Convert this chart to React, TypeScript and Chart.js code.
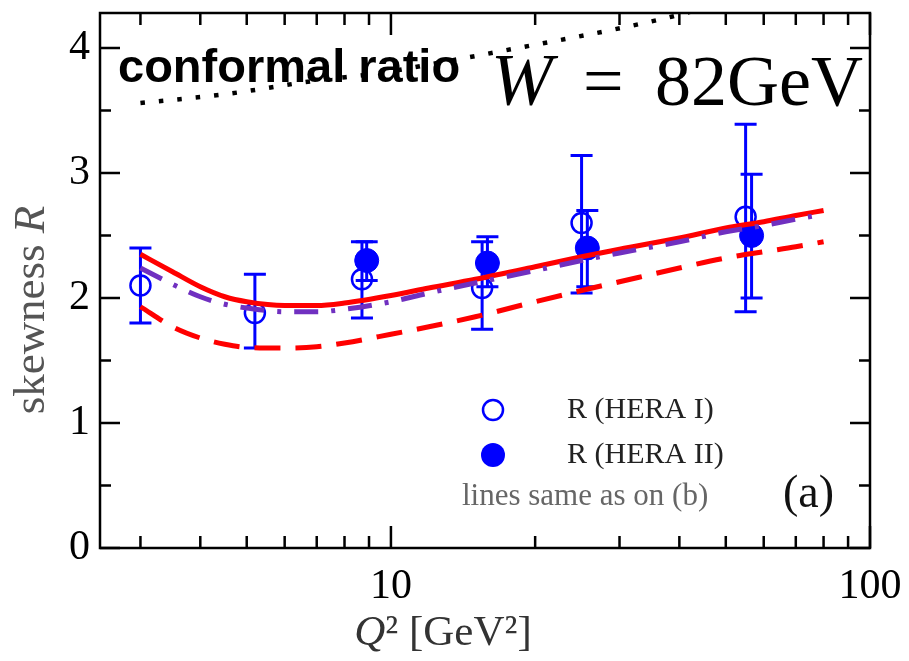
import React, { useEffect, useRef } from "react";
import { Chart, registerables } from "chart.js";

Chart.register(...registerables);

const WIDTH = 909;
const HEIGHT = 661;

// ---- data ----
const xTickValues = [10, 100];
const yTickValues = [0, 1, 2, 3, 4];

const hera1Q2 = [3.0, 5.2, 8.7, 15.5, 25.0, 55.0];
const hera1R = [2.1, 1.88, 2.15, 2.08, 2.6, 2.65];
const hera1Upper = [2.4, 2.19, 2.45, 2.45, 3.14, 3.39];
const hera1Lower = [1.8, 1.6, 1.84, 1.75, 2.04, 1.89];

const hera2Q2 = [8.9, 15.9, 25.7, 56.6];
const hera2R = [2.3, 2.28, 2.4, 2.5];
const hera2Upper = [2.45, 2.49, 2.7, 2.99];
const hera2Lower = [2.14, 2.09, 2.09, 2.0];

const curveQ2 = [3, 3.5, 4, 4.5, 5, 6, 7, 8, 10, 12, 15, 20, 25, 30, 40, 50, 60, 70, 80];
const solidRed = [2.35, 2.21, 2.09, 2.01, 1.97, 1.94, 1.94, 1.96, 2.02, 2.08, 2.15, 2.25, 2.33, 2.39, 2.48, 2.56, 2.61, 2.66, 2.7];
const dashDotPurple = [2.24, 2.11, 2.01, 1.95, 1.92, 1.89, 1.89, 1.91, 1.97, 2.04, 2.12, 2.22, 2.3, 2.36, 2.45, 2.53, 2.58, 2.63, 2.67];
const dashedRed = [1.93, 1.77, 1.68, 1.63, 1.605, 1.6, 1.61, 1.64, 1.71, 1.77, 1.85, 1.97, 2.06, 2.13, 2.24, 2.32, 2.37, 2.41, 2.45];

const conformalQ2 = [3, 4.5, 7, 9.5, 12.5, 19, 28.5, 38.5, 45];
const conformalR = [3.56, 3.63, 3.74, 3.8, 3.88, 4.01, 4.14, 4.25, 4.32];

const xMinorTicks = [3, 4, 5, 6, 7, 8, 9, 20, 30, 40, 50, 60, 70, 80, 90];
const yMinorTicks = [0.5, 1.5, 2.5, 3.5];

const zip = (xs: number[], ys: number[]) => xs.map((x, i) => ({ x, y: ys[i] }));

const BLUE = "#0000ff";
const RED = "#ff0000";
const PURPLE = "#7030c0";
const SERIF = "'Liberation Serif', 'DejaVu Serif', serif";
const SANS = "'Liberation Sans', Arial, sans-serif";

const decorPlugin = {
  id: "decor",
  beforeDatasetsDraw(chart: any) {
    const ctx = chart.ctx as CanvasRenderingContext2D;
    const xs = chart.scales.x;
    const ys = chart.scales.y;
    ctx.save();
    ctx.strokeStyle = BLUE;
    ctx.lineWidth = 3;
    const cap = 11;
    const drawBars = (q: number[], up: number[], lo: number[]) => {
      q.forEach((qv, i) => {
        const px = xs.getPixelForValue(qv);
        const pu = ys.getPixelForValue(up[i]);
        const pl = ys.getPixelForValue(lo[i]);
        ctx.beginPath();
        ctx.moveTo(px, pu);
        ctx.lineTo(px, pl);
        ctx.moveTo(px - cap, pu);
        ctx.lineTo(px + cap, pu);
        ctx.moveTo(px - cap, pl);
        ctx.lineTo(px + cap, pl);
        ctx.stroke();
      });
    };
    drawBars(hera1Q2, hera1Upper, hera1Lower);
    drawBars(hera2Q2, hera2Upper, hera2Lower);
    ctx.restore();
  },
  afterDraw(chart: any) {
    const ctx = chart.ctx as CanvasRenderingContext2D;
    const a = chart.chartArea;
    const xs = chart.scales.x;
    const ys = chart.scales.y;
    ctx.save();
    // frame
    ctx.strokeStyle = "#000";
    ctx.lineWidth = 2.5;
    ctx.strokeRect(a.left, a.top, a.right - a.left, a.bottom - a.top);
    // ticks
    ctx.lineWidth = 2.5;
    ctx.beginPath();
    const majorY = 20, minorY = 11, majorX = 22, minorX = 12;
    yTickValues.forEach((v) => {
      const py = ys.getPixelForValue(v);
      ctx.moveTo(a.left, py); ctx.lineTo(a.left + majorY, py);
      ctx.moveTo(a.right, py); ctx.lineTo(a.right - majorY, py);
    });
    yMinorTicks.forEach((v) => {
      const py = ys.getPixelForValue(v);
      ctx.moveTo(a.left, py); ctx.lineTo(a.left + minorY, py);
      ctx.moveTo(a.right, py); ctx.lineTo(a.right - minorY, py);
    });
    xTickValues.forEach((v) => {
      const px = xs.getPixelForValue(v);
      ctx.moveTo(px, a.bottom); ctx.lineTo(px, a.bottom - majorX);
      ctx.moveTo(px, a.top); ctx.lineTo(px, a.top + majorX);
    });
    xMinorTicks.forEach((v) => {
      const px = xs.getPixelForValue(v);
      ctx.moveTo(px, a.bottom); ctx.lineTo(px, a.bottom - minorX);
      ctx.moveTo(px, a.top); ctx.lineTo(px, a.top + minorX);
    });
    ctx.stroke();

    // annotations
    ctx.fillStyle = "#000";
    ctx.textBaseline = "alphabetic";
    ctx.textAlign = "left";
    ctx.font = `bold 47px ${SANS}`;
    ctx.fillText("conformal ratio", 118, 82);
    ctx.font = `italic 74px ${SERIF}`;
    ctx.fillText("W", 491, 105);
    ctx.font = `72px ${SERIF}`;
    ctx.fillText("=", 583, 105);
    ctx.fillText("82GeV", 655, 105);

    // legend
    ctx.strokeStyle = BLUE;
    ctx.fillStyle = BLUE;
    ctx.lineWidth = 2.5;
    ctx.beginPath();
    ctx.arc(493, 410, 10, 0, Math.PI * 2);
    ctx.stroke();
    ctx.beginPath();
    ctx.arc(493, 455, 12, 0, Math.PI * 2);
    ctx.fill();
    ctx.fillStyle = "#222";
    ctx.textBaseline = "middle";
    ctx.font = `30px ${SERIF}`;
    ctx.fillText("R (HERA I)", 567, 410);
    ctx.fillText("R (HERA II)", 567, 455);
    ctx.fillStyle = "#666";
    ctx.font = `31px ${SERIF}`;
    ctx.fillText("lines same as on (b)", 462, 497);
    ctx.fillStyle = "#111";
    ctx.font = `46px ${SERIF}`;
    ctx.fillText("(a)", 783, 495);

    // axis titles
    ctx.fillStyle = "#333";
    ctx.textBaseline = "alphabetic";
    ctx.font = `italic 43px ${SERIF}`;
    const qW = ctx.measureText("Q").width;
    ctx.font = `43px ${SERIF}`;
    const restText = "\u00b2 [GeV\u00b2]";
    const restW = ctx.measureText(restText).width;
    const totalW = qW + restW;
    const cx = 443;
    const startX = cx - totalW / 2;
    ctx.font = `italic 43px ${SERIF}`;
    ctx.fillText("Q", startX, 645);
    ctx.font = `43px ${SERIF}`;
    ctx.fillText(restText, startX + qW, 645);

    ctx.translate(44, 310);
    ctx.rotate(-Math.PI / 2);
    ctx.fillStyle = "#555";
    ctx.font = `45px ${SERIF}`;
    const sk = "skewness ";
    const skW = ctx.measureText(sk).width;
    ctx.font = `italic 45px ${SERIF}`;
    const rW = ctx.measureText("R").width;
    const sx = -(skW + rW) / 2;
    ctx.font = `45px ${SERIF}`;
    ctx.fillText(sk, sx, 0);
    ctx.font = `italic 45px ${SERIF}`;
    ctx.fillText("R", sx + skW, 0);
    ctx.restore();
  },
};

export default function App() {
  const ref = useRef<HTMLCanvasElement>(null);
  useEffect(() => {
    const canvas = ref.current;
    if (!canvas) return;
    const chart = new Chart(canvas, {
      type: "scatter",
      data: {
        datasets: [
          {
            type: "line",
            label: "conformal",
            data: zip(conformalQ2, conformalR),
            borderColor: "#000",
            borderWidth: 4.5,
            borderDash: [4.5, 14],
            borderCapStyle: "butt",
            pointRadius: 0,
            cubicInterpolationMode: "monotone",
            clip: 0,
            order: 0,
          } as any,
          {
            type: "line",
            label: "dashed",
            data: zip(curveQ2, dashedRed),
            borderColor: RED,
            borderWidth: 5,
            borderDash: [26, 15],
            pointRadius: 0,
            cubicInterpolationMode: "monotone",
            clip: 0,
            order: 0,
          } as any,
          {
            type: "line",
            label: "dashdot",
            data: zip(curveQ2, dashDotPurple),
            borderColor: PURPLE,
            borderWidth: 5,
            borderDash: [24, 13, 4, 13],
            pointRadius: 0,
            cubicInterpolationMode: "monotone",
            clip: 0,
            order: 0,
          } as any,
          {
            type: "line",
            label: "solid",
            data: zip(curveQ2, solidRed),
            borderColor: RED,
            borderWidth: 5,
            pointRadius: 0,
            cubicInterpolationMode: "monotone",
            clip: 0,
            order: 0,
          } as any,
          {
            label: "R (HERA I)",
            data: zip(hera1Q2, hera1R),
            pointRadius: 10,
            pointBorderWidth: 2.5,
            pointBorderColor: BLUE,
            pointBackgroundColor: "rgba(0,0,0,0)",
            showLine: false,
            order: 1,
          } as any,
          {
            label: "R (HERA II)",
            data: zip(hera2Q2, hera2R),
            pointRadius: 12,
            pointBorderWidth: 1,
            pointBorderColor: BLUE,
            pointBackgroundColor: BLUE,
            showLine: false,
            order: 1,
          } as any,
        ],
      },
      options: {
        animation: false,
        responsive: false,
        devicePixelRatio: 1,
        layout: { padding: { left: 0, top: 11, right: 39, bottom: 0 } },
        plugins: {
          legend: { display: false },
          tooltip: { enabled: false },
        },
        scales: {
          x: {
            type: "logarithmic",
            min: 2.47,
            max: 100,
            grid: { display: false, drawTicks: false },
            border: { display: false },
            afterBuildTicks: (s: any) => {
              s.ticks = xTickValues.map((v) => ({ value: v }));
            },
            afterFit: (s: any) => {
              s.height = 113;
              s.paddingLeft = 0;
              s.paddingRight = 0;
            },
            ticks: {
              autoSkip: false,
              maxRotation: 0,
              padding: 14,
              color: "#000",
              font: { family: SERIF, size: 42 },
              callback: (v: any) => String(v),
            },
          },
          y: {
            min: 0,
            max: 4.28,
            grid: { display: false, drawTicks: false },
            border: { display: false },
            afterBuildTicks: (s: any) => {
              s.ticks = yTickValues.map((v) => ({ value: v }));
            },
            afterFit: (s: any) => {
              s.width = 100;
              s.paddingTop = 0;
              s.paddingBottom = 0;
            },
            ticks: {
              padding: 10,
              color: "#000",
              font: { family: SERIF, size: 42 },
              callback: (v: any) => String(v),
            },
          },
        },
      },
      plugins: [decorPlugin],
    });
    return () => chart.destroy();
  }, []);
  return (
    <div style={{ position: "absolute", left: 0, top: 0, width: WIDTH, height: HEIGHT, background: "#fff" }}>
      <canvas ref={ref} width={WIDTH} height={HEIGHT} style={{ width: WIDTH, height: HEIGHT, display: "block" }} />
    </div>
  );
}
